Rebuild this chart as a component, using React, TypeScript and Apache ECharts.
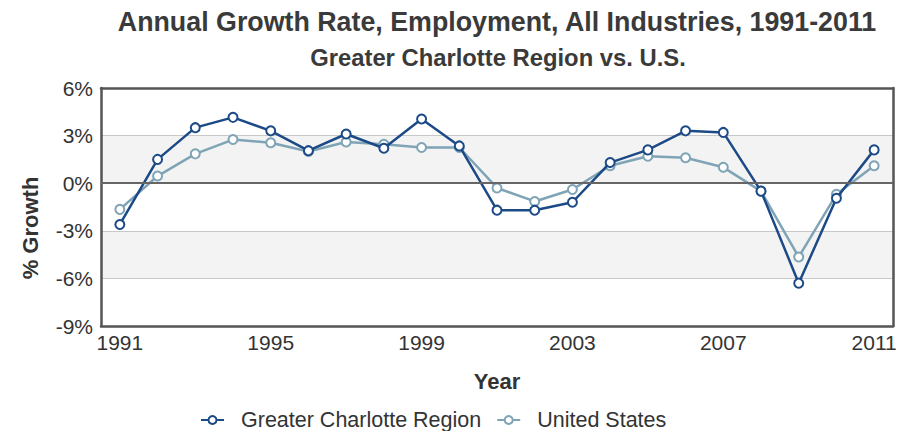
import React, { useEffect, useRef } from "react";
import * as echarts from "echarts";

const years = ["1991","1992","1993","1994","1995","1996","1997","1998","1999","2000","2001","2002","2003","2004","2005","2006","2007","2008","2009","2010","2011"];
const charlotte = [-2.6, 1.5, 3.5, 4.15, 3.3, 2.05, 3.1, 2.2, 4.05, 2.35, -1.7, -1.7, -1.2, 1.3, 2.1, 3.3, 3.2, -0.5, -6.3, -0.95, 2.1];
const usa = [-1.65, 0.45, 1.85, 2.75, 2.55, 2.0, 2.6, 2.45, 2.25, 2.25, -0.3, -1.15, -0.4, 1.1, 1.7, 1.6, 1.0, -0.5, -4.65, -0.7, 1.1];
const yTicks = [-9, -6, -3, 0, 3, 6];

const FONT = "Liberation Sans, Arial, sans-serif";
const DARK = "#1c4a86";
const LIGHT = "#7fa4b6";
const FRAME = "#555";

export default function App() {
  const ref = useRef<HTMLDivElement>(null);
  useEffect(() => {
    if (!ref.current) return;
    const chart = echarts.init(ref.current, null, { renderer: "svg" });
    chart.setOption({
      animation: false,
      textStyle: { fontFamily: FONT },
      graphic: [
        { type: "text", x: 497, y: 22, style: { text: "Annual Growth Rate, Employment, All Industries, 1991-2011", font: `bold 26.8px ${FONT}`, fill: "#3a3a3a", align: "center", verticalAlign: "middle" } },
        { type: "text", x: 498, y: 57, style: { text: "Greater Charlotte Region vs. U.S.", font: `bold 23.8px ${FONT}`, fill: "#3a3a3a", align: "center", verticalAlign: "middle" } },
        { type: "text", x: 30, y: 228, rotation: Math.PI / 2, style: { text: "% Growth", font: `bold 22px ${FONT}`, fill: "#333", align: "center", verticalAlign: "middle" } },
        { type: "text", x: 497, y: 381, style: { text: "Year", font: `bold 22px ${FONT}`, fill: "#333", align: "center", verticalAlign: "middle" } }
      ],
      legend: {
        top: 404,
        left: 195,
        itemWidth: 23,
        itemHeight: 10,
        itemGap: 15,
        textStyle: { fontSize: 21.5, color: "#333", fontFamily: FONT, padding: [0, 0, 0, 12] },
        data: ["Greater Charlotte Region", "United States"]
      },
      grid: {
        left: 101, right: 20, top: 88, bottom: 105
      },
      xAxis: [
        {
          type: "category",
          data: years,
          boundaryGap: true,
          axisLine: { show: true, onZero: false, lineStyle: { color: FRAME, width: 2.5 } },
          axisTick: { show: false },
          axisLabel: { interval: 3, fontSize: 21, color: "#333", margin: 6, fontFamily: FONT },
          splitLine: { show: false }
        },
        {
          type: "category",
          data: years,
          position: "top",
          boundaryGap: true,
          axisLine: { show: true, onZero: false, lineStyle: { color: FRAME, width: 2.5 } },
          axisTick: { show: false },
          axisLabel: { show: false },
          splitLine: { show: false }
        }
      ],
      yAxis: [
        {
          type: "value",
          min: -9, max: 6, interval: 3,
          axisLine: { show: true, lineStyle: { color: FRAME, width: 2.5 } },
          axisTick: { show: false },
          axisLabel: { fontSize: 21, color: "#333", margin: 8, fontFamily: FONT, formatter: (v: number) => yTicks.includes(v) ? v + "%" : "" },
          splitLine: { show: true, lineStyle: { color: "#c8c8c8", width: 1 } },
          splitArea: { show: true, areaStyle: { color: ["#ffffff", "#f3f3f3"] } }
        },
        {
          type: "value",
          min: -9, max: 6, interval: 3,
          position: "right",
          axisLine: { show: true, lineStyle: { color: FRAME, width: 2.5 } },
          axisTick: { show: false },
          axisLabel: { show: false },
          splitLine: { show: false }
        }
      ],
      series: [
        {
          name: "United States",
          type: "line",
          data: usa,
          z: 3,
          symbol: "emptyCircle",
          symbolSize: 9,
          color: LIGHT,
          lineStyle: { width: 2.5, color: LIGHT },
          itemStyle: { color: LIGHT, borderColor: LIGHT, borderWidth: 2 },
          markLine: {
            silent: true,
            symbol: "none",
            label: { show: false },
            lineStyle: { color: "#666", width: 2, type: "solid" },
            data: [{ yAxis: 0 }]
          }
        },
        {
          name: "Greater Charlotte Region",
          type: "line",
          data: charlotte,
          z: 4,
          symbol: "emptyCircle",
          symbolSize: 9,
          color: DARK,
          lineStyle: { width: 2.5, color: DARK },
          itemStyle: { color: DARK, borderColor: DARK, borderWidth: 2 }
        }
      ]
    });
    return () => chart.dispose();
  }, []);
  return <div ref={ref} style={{ width: 913, height: 431, marginTop: -8, marginLeft: -8 }} />;
}
